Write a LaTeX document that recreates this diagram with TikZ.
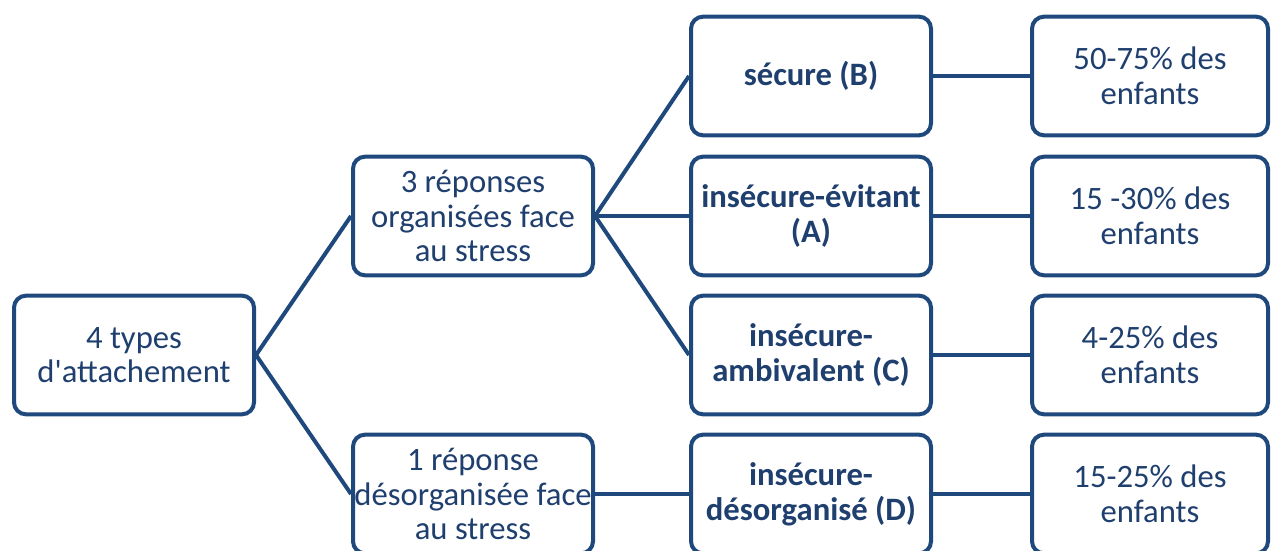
\documentclass[tikz,border=0pt]{standalone}
\usepackage{fontspec}
\setmainfont{Carlito}[Ligatures=TeXOff]
\definecolor{boxblue}{HTML}{1F497D}
\definecolor{txtblue}{HTML}{1F3F6E}
\begin{document}
\begin{tikzpicture}[x=0.75pt,y=-0.75pt,
  box/.style={draw=boxblue,line width=3pt,rounded corners=9pt,fill=white,
    minimum width=180pt,minimum height=89pt,align=center,inner sep=0pt,
    text=txtblue,font=\fontsize{24.5}{26}\selectfont},
  rbox/.style={box,minimum width=177pt},
  bbox/.style={box,font=\fontsize{24.5}{26}\selectfont\bfseries},
  link/.style={draw=boxblue,line width=3pt}]
\useasboundingbox (0,0) rectangle (1273,550);
\clip (0,0) rectangle (1273,550);
\node[box] (root) at (134,355) {4 types\\d'attachement};
\node[box] (org) at (473,216) {3 réponses\\organisées face\\au stress};
\node[box] (dis) at (473,494) {1 réponse\\désorganisée face\\au stress};
\node[bbox] (B) at (811,76) {sécure (B)};
\node[bbox] (A) at (811,216) {insécure-évitant\\(A)};
\node[bbox] (C) at (811,355) {insécure-\\ambivalent (C)};
\node[bbox] (D) at (811,494) {insécure-\\désorganisé (D)};
\node[rbox] (pB) at (1150,76) {50-75\% des\\enfants};
\node[rbox] (pA) at (1150,216) {15 -30\% des\\enfants};
\node[rbox] (pC) at (1150,355) {4-25\% des\\enfants};
\node[rbox] (pD) at (1150,494) {15-25\% des\\enfants};
\draw[link] (root.east) -- (org.west);
\draw[link] (root.east) -- (dis.west);
\draw[link] (org.east) -- (B.west);
\draw[link] (org.east) -- (A.west);
\draw[link] (org.east) -- (C.west);
\draw[link] (dis.east) -- (D.west);
\draw[link] (B.east) -- (pB.west);
\draw[link] (A.east) -- (pA.west);
\draw[link] (C.east) -- (pC.west);
\draw[link] (D.east) -- (pD.west);
\end{tikzpicture}
\end{document}
